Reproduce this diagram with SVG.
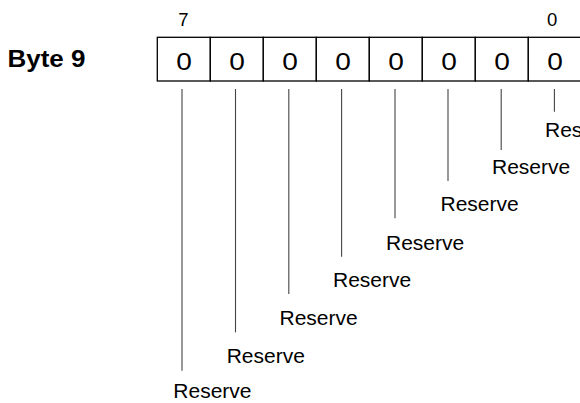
<svg xmlns="http://www.w3.org/2000/svg" width="580" height="403" viewBox="0 0 580 403">
<style>
.t{font-family:"Liberation Sans",Arial,sans-serif;fill:#000}
.lbl{font-size:21px}
.hdr{font-size:18.5px;text-anchor:middle}
.dig{font-size:23px;text-anchor:middle}
.cell{fill:#fff;stroke:#000;stroke-width:1.3}
.ln{stroke:#444;stroke-width:1.1}
</style>
<rect width="580" height="403" fill="#fff"/>
<g id="title"><text class="t" x="7.5" y="67.3" font-size="23.5" font-weight="bold" textLength="78" lengthAdjust="spacingAndGlyphs">Byte 9</text></g>
<g id="bitnums">
<text class="t hdr" x="183.3" y="26.3">7</text>
<text class="t hdr" x="552.2" y="26">0</text>
</g>
<g id="register">
<rect class="cell" x="157.3" y="37.3" width="53" height="43.7"/>
<rect class="cell" x="210.3" y="37.3" width="53" height="43.7"/>
<rect class="cell" x="263.3" y="37.3" width="53" height="43.7"/>
<rect class="cell" x="316.3" y="37.3" width="53" height="43.7"/>
<rect class="cell" x="369.3" y="37.3" width="53" height="43.7"/>
<rect class="cell" x="422.3" y="37.3" width="53" height="43.7"/>
<rect class="cell" x="475.3" y="37.3" width="53" height="43.7"/>
<rect class="cell" x="528.3" y="37.3" width="53" height="43.7"/>
<text class="t dig" transform="translate(184,69.7) scale(1.22,1)">0</text>
<text class="t dig" transform="translate(237,69.7) scale(1.22,1)">0</text>
<text class="t dig" transform="translate(290,69.7) scale(1.22,1)">0</text>
<text class="t dig" transform="translate(343,69.7) scale(1.22,1)">0</text>
<text class="t dig" transform="translate(396,69.7) scale(1.22,1)">0</text>
<text class="t dig" transform="translate(449,69.7) scale(1.22,1)">0</text>
<text class="t dig" transform="translate(502,69.7) scale(1.22,1)">0</text>
<text class="t dig" transform="translate(555,69.7) scale(1.22,1)">0</text>
</g>
<g id="connectors">
<line class="ln" x1="182" y1="89" x2="182" y2="370.7"/>
<line class="ln" x1="235.5" y1="89" x2="235.5" y2="332.3"/>
<line class="ln" x1="288.8" y1="89" x2="288.8" y2="294"/>
<line class="ln" x1="341.6" y1="89" x2="341.6" y2="256.7"/>
<line class="ln" x1="395" y1="89" x2="395" y2="218.3"/>
<line class="ln" x1="448" y1="89" x2="448" y2="181"/>
<line class="ln" x1="501.2" y1="89" x2="501.2" y2="150"/>
<line class="ln" x1="554.4" y1="89" x2="554.4" y2="111.7"/>
</g>
<g id="labels">
<text class="t lbl" x="173.3" y="398">Reserve</text>
<text class="t lbl" x="226.7" y="362.7">Reserve</text>
<text class="t lbl" x="279.5" y="325">Reserve</text>
<text class="t lbl" x="333" y="287.3">Reserve</text>
<text class="t lbl" x="386" y="250">Reserve</text>
<text class="t lbl" x="440.5" y="211">Reserve</text>
<text class="t lbl" x="492" y="174">Reserve</text>
<text class="t lbl" x="545" y="136.7">Reserve</text>
</g>
</svg>
